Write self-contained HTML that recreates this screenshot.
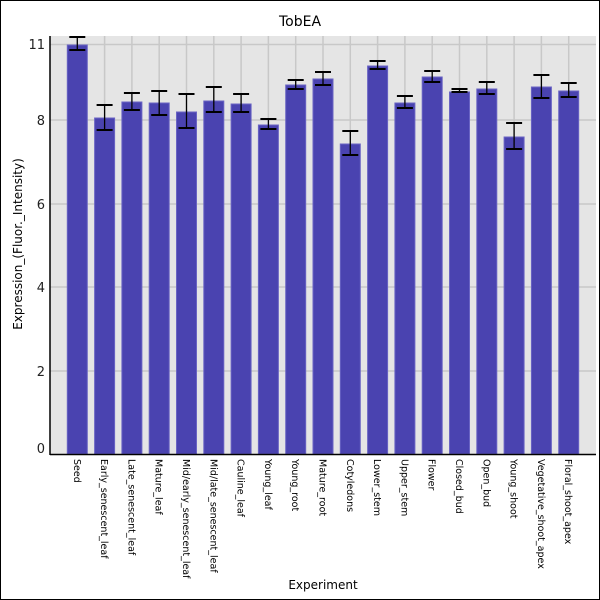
<!DOCTYPE html>
<html><head><meta charset="utf-8"><style>html,body{margin:0;padding:0;background:#fff}svg{display:block}text{font-family:"DejaVu Sans","Liberation Sans",sans-serif}</style></head><body>
<svg width="600" height="600" xmlns="http://www.w3.org/2000/svg">
<rect x="0.5" y="0.5" width="599" height="599" fill="#fff" stroke="#000"/>
<rect x="50" y="36" width="546" height="418" fill="#e5e5e5"/>
<g stroke="#c8c8c8" stroke-width="1.5">
<line x1="50" x2="596" y1="44.5" y2="44.5"/><line x1="50" x2="596" y1="120" y2="120"/><line x1="50" x2="596" y1="204" y2="204"/><line x1="50" x2="596" y1="287" y2="287"/><line x1="50" x2="596" y1="371" y2="371"/>
</g>
<g id="v" stroke="#c8c8c8" stroke-width="1.5"></g>
<g id="bars"></g>
<line x1="50" y1="36" x2="50" y2="455" stroke="#000" stroke-width="1.5"/>
<line x1="50" y1="454.5" x2="596" y2="454.5" stroke="#000" stroke-width="1.5"/>
<g font-size="13" fill="#222" text-anchor="end">
<text x="45" y="49">11</text><text x="45" y="125">8</text><text x="45" y="209">6</text><text x="45" y="292">4</text><text x="45" y="376">2</text><text x="45" y="453">0</text>
</g>
<text x="300" y="26" font-size="14" text-anchor="middle">TobEA</text>
<text x="323" y="589" font-size="12" text-anchor="middle">Experiment</text>
<text transform="translate(22,244) rotate(-90)" font-size="12" text-anchor="middle">Expression_(Fluor._Intensity)</text>
<g id="labs" font-size="9.5"></g>
</svg>
<script>
var names=["Seed","Early_senescent_leaf","Late_senescent_leaf","Mature_leaf","Mid/early_senescent_leaf","Mid/late_senescent_leaf","Cauline_leaf","Young_leaf","Young_root","Mature_root","Cotyledons","Lower_stem","Upper_stem","Flower","Closed_bud","Open_bud","Young_shoot","Vegetative_shoot_apex","Floral_shoot_apex"];
var d=[[45,37,50],[118,105,130],[102,93,110],[103,91,115],[112,94,128],[101,87,112],[104,94,112],[125,119,129],[85,80,89],[79,72,85],[144,131,155],[66,61,69],[103,96,108],[77,71,82],[92,89,92],[89,82,94],[137,123,149],[87,75,98],[91,83,97]];
var ns="http://www.w3.org/2000/svg",v=document.getElementById("v"),b=document.getElementById("bars"),l=document.getElementById("labs");
function el(t,a,p){var e=document.createElementNS(ns,t);for(var k in a)e.setAttribute(k,a[k]);p.appendChild(e);return e;}
for(var i=0;i<19;i++){var c=50+27.3*(i+1);
el("line",{x1:c,x2:c,y1:36,y2:454},v);
el("rect",{x:c-10,y:d[i][0],width:20,height:454-d[i][0],fill:"#4a43b0",stroke:"#6a64c4","stroke-width":1},b);
el("line",{x1:c,x2:c,y1:d[i][1],y2:d[i][2],stroke:"#000","stroke-width":1.3},b);
el("line",{x1:c-8,x2:c+8,y1:d[i][1],y2:d[i][1],stroke:"#000","stroke-width":2},b);
el("line",{x1:c-8,x2:c+8,y1:d[i][2],y2:d[i][2],stroke:"#000","stroke-width":2},b);
var t=el("text",{transform:"translate("+(c-3.5)+",459) rotate(90)"},l);t.textContent=names[i];}
</script>
</body></html>
